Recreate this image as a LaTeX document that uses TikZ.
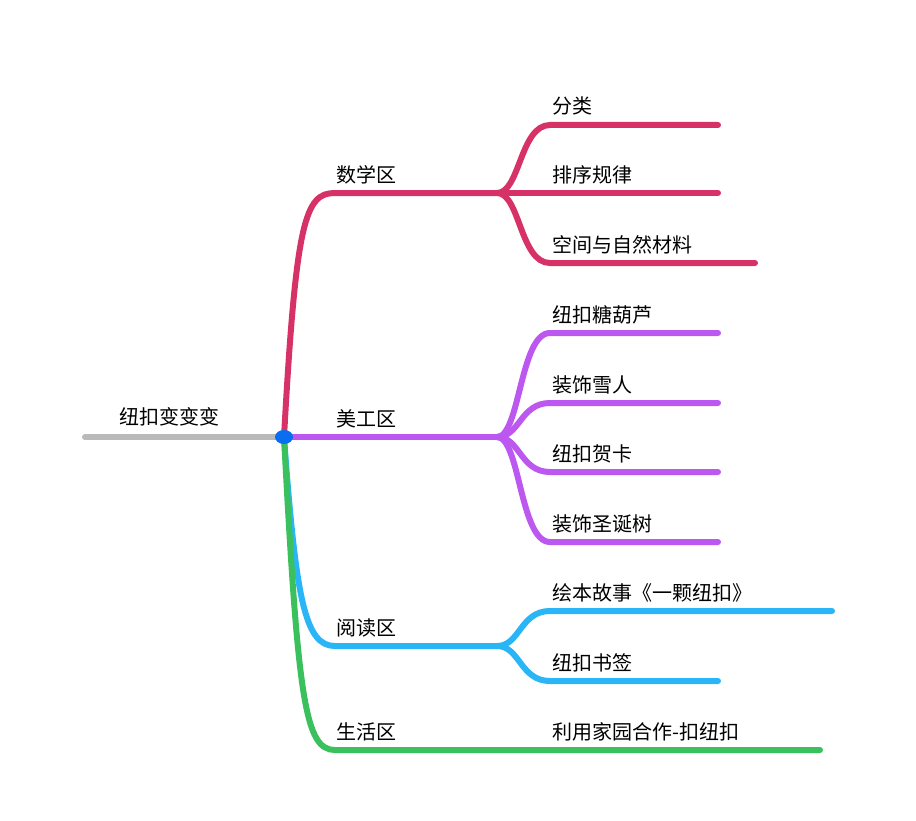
\documentclass[tikz,border=0pt]{standalone}
\usepackage{fontspec}
\setmainfont{Noto Sans CJK SC}
\usetikzlibrary{positioning}
\definecolor{mathc}{RGB}{214,50,104}
\definecolor{artc}{RGB}{188,88,240}
\definecolor{readc}{RGB}{42,182,246}
\definecolor{lifec}{RGB}{58,192,92}
\definecolor{rootc}{RGB}{186,186,186}
\definecolor{dotc}{RGB}{10,110,240}
\begin{document}
\begin{tikzpicture}[x=0.75pt,y=-0.75pt]
		\tikzset{
			branch/.style={line width=4.5pt, line cap=round},
			label/.style={anchor=base west, font=\fontsize{15}{15}\selectfont, inner sep=0pt}
		}
		\useasboundingbox (0,0) rectangle (916,820);
		
		% Root
		\coordinate (r0) at (85,437);
		\coordinate (hub) at (284,437);
		\draw[branch, rootc] (r0) -- (hub);
		\node[label] (root) at (119,424) {纽扣变变变};
		
		% Main branches
		\coordinate (m1) at (335,193); \coordinate (m2) at (497,193);
		\coordinate (a2) at (497,437);
		\coordinate (p1) at (335,646); \coordinate (p2) at (497,646);
		\coordinate (l1) at (335,750); \coordinate (l2) at (820,750);
		\draw[branch, mathc] (hub) .. controls (296,220) and (305,193) .. (m1) -- (m2);
		\draw[branch, artc] (hub) -- (a2);
		\draw[branch, readc] (hub) .. controls (296,600) and (305,646) .. (p1) -- (p2);
		\draw[branch, lifec] (hub) .. controls (298,700) and (305,750) .. (l1) -- (l2);
		\node[label] (math) at (336,182) {数学区};
		\node[label] (art) at (336,426) {美工区};
		\node[label] (read) at (336,635) {阅读区};
		\node[label] (life) at (336,739) {生活区};
		
		% Leaves
		\foreach \y/\e/\t [count=\i] in {125/718/分类, 193/718/排序规律, 263/755/空间与自然材料}{
			\coordinate (me\i) at (\e,\y);
			\draw[branch, mathc] (m2) .. controls (520,193) and (520,\y) .. (550,\y) -- (me\i);
			\node[label] (mt\i) at (552,\y-11) {\t};
		}
		\foreach \y/\e/\t [count=\i] in {333/718/纽扣糖葫芦, 403/718/装饰雪人, 472/718/纽扣贺卡, 542/718/装饰圣诞树}{
			\coordinate (ae\i) at (\e,\y);
			\draw[branch, artc] (a2) .. controls (520,437) and (520,\y) .. (550,\y) -- (ae\i);
			\node[label] (at\i) at (552,\y-11) {\t};
		}
		\foreach \y/\e/\t [count=\i] in {611/832/绘本故事《一颗纽扣》, 681/718/纽扣书签}{
			\coordinate (re\i) at (\e,\y);
			\draw[branch, readc] (p2) .. controls (520,646) and (520,\y) .. (550,\y) -- (re\i);
			\node[label] (rt\i) at (552,\y-11) {\t};
		}
		\node[label] (lt1) at (552,739) {利用家园合作-扣纽扣};
		
		% Hub dot
		\fill[dotc] (hub) ellipse (9 and 7);
	\end{tikzpicture}
\end{document}
